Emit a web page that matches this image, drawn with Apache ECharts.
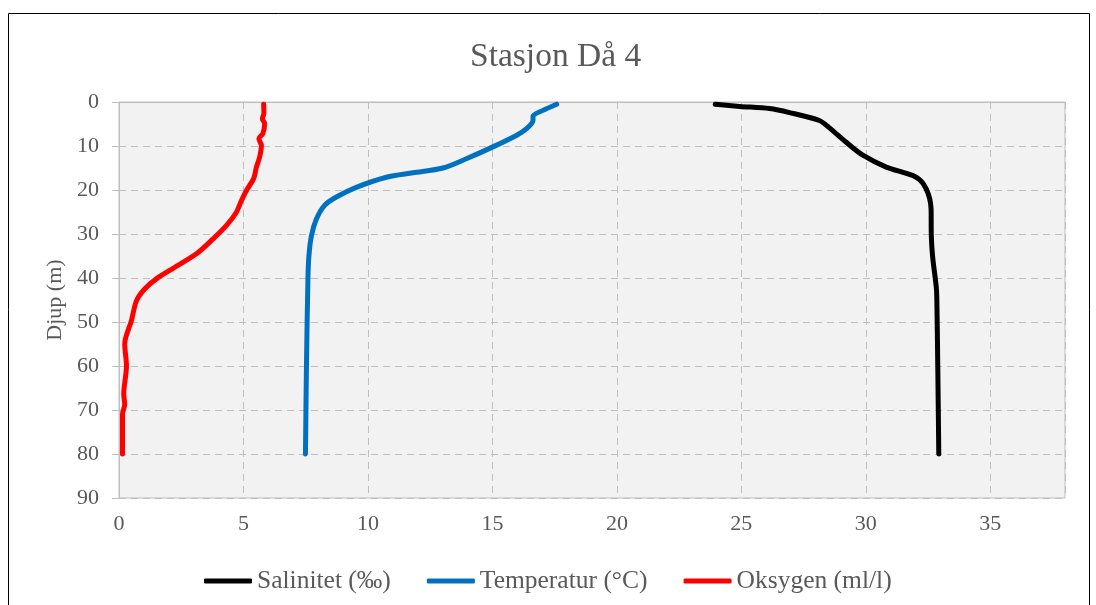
<!DOCTYPE html>
<html>
<head>
<meta charset="utf-8">
<script src="https://cdn.jsdelivr.net/npm/echarts@6/dist/echarts.min.js"></script>
<style>
html, body { margin: 0; padding: 0; background: #fff; }
#chart { width: 1096px; height: 605px; }
</style>
</head>
<body>
<div id="chart"></div>
<script>
// verdiar lest av figuren, djup i meter
const salDepth = [0.5, 1.0, 1.5, 2.4, 4.2, 5.7, 9.1, 12.1, 14.8, 17.1, 19.7, 24.3, 30.4, 35, 42.1, 44.4, 60.3, 80];
const salValue = [23.95, 24.93, 26.13, 26.93, 28.13, 28.5, 29.2, 29.88, 30.82, 32.02, 32.42, 32.62, 32.63, 32.68, 32.83, 32.85, 32.89, 32.93];

const tempDepth = [0.5, 1.9, 3.2, 4.2, 6.1, 7.6, 10.2, 12.9, 15.0, 16.1, 17.1, 19.4, 21.6, 23.5, 26.6, 30.4, 34.9, 40, 60, 80];
const tempValue = [17.58, 17.03, 16.63, 16.63, 16.36, 15.96, 15.02, 13.95, 13.01, 11.81, 10.74, 9.53, 8.73, 8.26, 7.93, 7.73, 7.63, 7.59, 7.53, 7.49];

const oxyDepth = [0.5, 2.6, 3.8, 4.9, 7.2, 8.3, 9.9, 12.5, 14.8, 17.4, 20.1, 22.4, 25.1, 28.1, 31.1, 34.5, 37.8, 40.2, 42.5, 45.2, 49.7, 55.0, 60.0, 66.4, 68.7, 71.0, 80];
const oxyValue = [5.81, 5.82, 5.76, 5.85, 5.78, 5.62, 5.72, 5.65, 5.52, 5.41, 5.12, 4.92, 4.71, 4.31, 3.78, 3.11, 2.17, 1.5, 1.03, 0.70, 0.5, 0.23, 0.3, 0.19, 0.23, 0.14, 0.14];

const seriesNames = ['Salinitet (‰)', 'Temperatur (°C)', 'Oksygen (ml/l)'];
const seriesColors = ['#000000', '#0070c0', '#ff0000'];

function pairs(vals, depths) {
    return vals.map((v, i) => [v, depths[i]]);
}

const font = '"Liberation Serif", "DejaVu Serif", serif';
const textColor = '#595959';

let myChart = echarts.init(document.getElementById('chart'));

const lineSeries = [
    pairs(salValue, salDepth),
    pairs(tempValue, tempDepth),
    pairs(oxyValue, oxyDepth)
].map((d, i) => ({
    name: seriesNames[i],
    type: 'line',
    data: d,
    smooth: 0.3,
    showSymbol: false,
    symbol: 'none',
    color: seriesColors[i],
    lineStyle: { width: 5, color: seriesColors[i], cap: 'round', join: 'round' }
}));

myChart.setOption({
    animation: false,
    backgroundColor: '#fff',
    textStyle: { fontFamily: font },
    title: {
        text: 'Stasjon Då 4',
        left: 465,
        top: 35,
        textStyle: { fontFamily: font, fontSize: 33.5, fontWeight: 'normal', color: textColor }
    },
    graphic: [{
        type: 'rect',
        shape: { x: 8.5, y: 13.5, width: 1081, height: 620 },
        style: { fill: 'none', stroke: '#000', lineWidth: 1 },
        silent: true
    }],
    legend: {
        left: 199,
        top: 563,
        icon: 'roundRect',
        itemWidth: 48,
        itemHeight: 5,
        itemGap: 36,
        textStyle: { fontFamily: font, fontSize: 25.5, color: textColor },
        data: seriesNames
    },
    grid: {
        left: 119,
        right: 31,
        top: 102,
        bottom: 107,
        show: true,
        backgroundColor: '#f2f2f2',
        borderColor: '#bfbfbf',
        borderWidth: 1
    },
    xAxis: {
        type: 'value',
        min: 0,
        max: 38,
        interval: 5,
        axisLine: { show: true, lineStyle: { color: '#bfbfbf' } },
        axisTick: { show: false },
        axisLabel: { showMaxLabel: false, margin: 15, fontSize: 22, color: textColor, fontFamily: font },
        splitLine: { show: true, lineStyle: { color: '#bfbfbf', type: [7, 5], width: 1 } }
    },
    yAxis: {
        type: 'value',
        inverse: true,
        min: 0,
        max: 90,
        interval: 10,
        name: 'Djup (m)',
        nameLocation: 'middle',
        nameGap: 52,
        nameTextStyle: { fontFamily: font, fontSize: 22, color: textColor },
        axisLine: { show: true, lineStyle: { color: '#bfbfbf' } },
        axisTick: { show: true, length: 7, lineStyle: { color: '#bfbfbf' } },
        axisLabel: { margin: 20, fontSize: 22, color: textColor, fontFamily: font },
        splitLine: { show: true, lineStyle: { color: '#bfbfbf', type: [7, 5], width: 1 } }
    },
    series: lineSeries
});
</script>
</body>
</html>
